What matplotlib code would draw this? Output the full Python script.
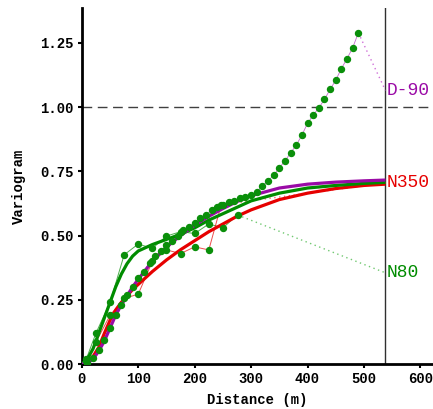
import matplotlib
matplotlib.use("Agg")
import matplotlib.pyplot as plt

# ---- experimental variograms ----
d90_lag = [10, 20, 30, 40, 50, 60, 70, 80, 90, 100, 110, 120, 130, 140, 150, 160, 170, 180, 190, 200,
           210, 220, 230, 240, 250, 260, 270, 280, 290, 300, 310, 320, 330, 340, 350, 360, 370, 380, 390, 400,
           410, 420, 430, 440, 450, 460, 470, 480, 490]
d90_val = [0.005, 0.025, 0.055, 0.095, 0.14, 0.19, 0.23, 0.27, 0.30, 0.335, 0.36, 0.395, 0.42, 0.44, 0.465,
           0.48, 0.50, 0.52, 0.535, 0.55, 0.567, 0.58, 0.60, 0.61, 0.62, 0.63, 0.635, 0.645, 0.65, 0.658,
           0.67, 0.694, 0.713, 0.735, 0.764, 0.79, 0.822, 0.852, 0.891, 0.937, 0.969, 0.997, 1.03, 1.069,
           1.105, 1.15, 1.189, 1.231, 1.289]

n80_lag = [8, 25, 50, 75, 100, 125, 150, 175, 200, 225, 250, 276]
n80_val = [0.02, 0.12, 0.24, 0.425, 0.467, 0.45, 0.498, 0.515, 0.508, 0.545, 0.53, 0.58]

n350_lag = [8, 25, 50, 75, 100, 125, 150, 175, 200, 225, 247]
n350_val = [0.01, 0.085, 0.19, 0.255, 0.272, 0.40, 0.444, 0.43, 0.456, 0.444, 0.62]

# ---- fitted model curves ----
fit_x = [0, 10, 20, 30, 40, 50, 60, 70, 80, 90, 100, 125, 150, 175, 200, 225, 250, 275, 300, 350,
         400, 450, 500, 538]
fit_d90 = [0, 0.003, 0.02, 0.05, 0.09, 0.14, 0.19, 0.23, 0.265, 0.30, 0.33, 0.40, 0.455, 0.50, 0.54,
           0.575, 0.605, 0.632, 0.655, 0.685, 0.70, 0.708, 0.713, 0.716]
fit_n350 = [0, 0.01, 0.03, 0.065, 0.12, 0.17, 0.21, 0.24, 0.265, 0.29, 0.31, 0.36, 0.405, 0.445, 0.48,
            0.515, 0.545, 0.575, 0.60, 0.64, 0.665, 0.683, 0.695, 0.70]
fit_n80 = [0, 0.02, 0.06, 0.12, 0.18, 0.24, 0.30, 0.35, 0.39, 0.42, 0.44, 0.465, 0.485, 0.505, 0.53,
           0.56, 0.585, 0.61, 0.635, 0.665, 0.685, 0.695, 0.703, 0.707]

label_x = 538
labels = ["D-90", "N350", "N80"]
label_y = [1.065, 0.705, 0.355]

PURPLE = "#9a0aa6"
RED = "#e60000"
GREEN = "#008c00"
MARK = "#0a8f0a"

fig = plt.figure(figsize=(4.33, 4.09), dpi=100)
ax = fig.add_axes([0.189, 0.110, 0.808, 0.870])

mono_b = dict(family="Liberation Mono", weight="bold", size=10)

# reference lines
ax.axhline(1.0, color="#404040", lw=1.0, dashes=(7, 4), zorder=1)
ax.axvline(label_x, color="#303030", lw=1.0, zorder=1)

# thin experimental lines
ax.plot(d90_lag, d90_val, color=PURPLE, lw=0.6, alpha=0.6, zorder=2)
ax.plot(n80_lag, n80_val, color=GREEN, lw=0.7, alpha=0.7, zorder=2)
ax.plot(n350_lag, n350_val, color=RED, lw=0.7, alpha=0.7, zorder=2)

# dotted connectors to labels
ax.plot([d90_lag[-1], label_x], [d90_val[-1], label_y[0]], color="#d070d8", lw=1.0, ls=(0, (1, 2.5)), zorder=2)
ax.plot([n350_lag[-1], label_x], [n350_val[-1], label_y[1]], color="#f07070", lw=1.0, ls=(0, (1, 2.5)), zorder=2)
ax.plot([n80_lag[-1], label_x], [n80_val[-1], label_y[2]], color="#70c870", lw=1.0, ls=(0, (1, 2.5)), zorder=2)

# fitted curves
ax.plot(fit_x, fit_n350, color=RED, lw=2.3, zorder=3, solid_capstyle="butt")
ax.plot(fit_x, fit_n80, color=GREEN, lw=2.3, zorder=3, solid_capstyle="butt")
ax.plot(fit_x, fit_d90, color=PURPLE, lw=2.3, zorder=3, solid_capstyle="butt")

# markers
for lx, ly in [(d90_lag, d90_val), (n80_lag, n80_val), (n350_lag, n350_val)]:
    ax.plot(lx, ly, ls="none", marker="o", ms=4.3, color=MARK, mec=MARK, zorder=4)

# labels
for txt, yv, c in zip(labels, label_y, [PURPLE, RED, GREEN]):
    ax.text(label_x + 2, yv, txt, color=c, family="Liberation Mono", size=13,
            va="center", ha="left", clip_on=False)

ax.set_xlim(0, 620)
ax.set_ylim(0, 1.385)
ax.set_xticks([0, 100, 200, 300, 400, 500, 600])
ax.set_yticks([0.0, 0.25, 0.5, 0.75, 1.0, 1.25])
ax.set_yticklabels(["0.00", "0.25", "0.50", "0.75", "1.00", "1.25"])
for lab in ax.get_xticklabels() + ax.get_yticklabels():
    lab.set_fontfamily("Liberation Mono")
    lab.set_fontweight("bold")
    lab.set_fontsize(10)

for s in ["top", "right"]:
    ax.spines[s].set_visible(False)
for s in ["left", "bottom"]:
    ax.spines[s].set_linewidth(2.0)
ax.tick_params(direction="out", length=3, width=1.5, pad=3)

ax.set_xlabel("Distance (m)", labelpad=5, **mono_b)
ax.set_ylabel("Variogram", labelpad=10, **mono_b)

fig.savefig("out.png", dpi=100)
